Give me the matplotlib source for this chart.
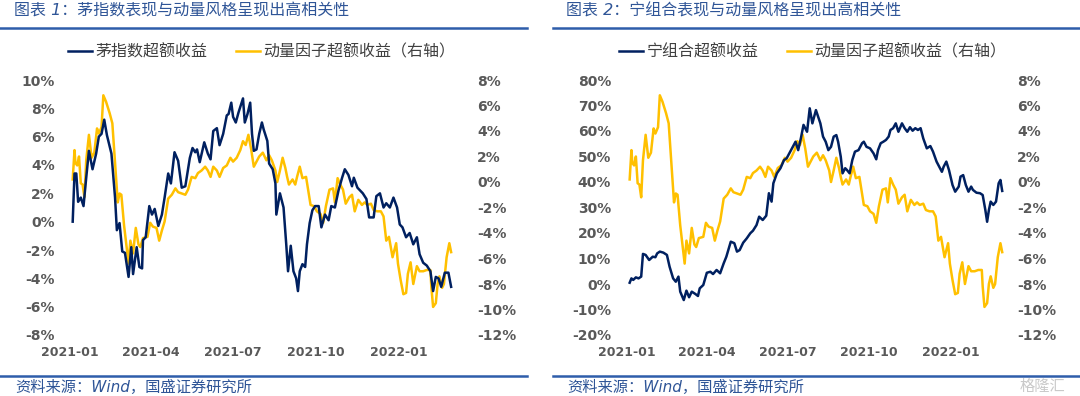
import matplotlib
matplotlib.use('Agg')
import matplotlib.pyplot as plt
import matplotlib.dates as mdates
import pandas as pd
from matplotlib.lines import Line2D

plt.rcParams['font.family'] = ['Noto Sans CJK SC', 'DejaVu Sans']

# 茅指数超额收益 (%), 左图左轴
mao_dates = ['2021-01-04', '2021-01-06', '2021-01-08', '2021-01-10', '2021-01-13', '2021-01-16',
             '2021-01-19', '2021-01-22', '2021-01-26', '2021-01-30', '2021-02-02', '2021-02-05',
             '2021-02-08', '2021-02-11', '2021-02-16', '2021-02-20', '2021-02-22', '2021-02-25',
             '2021-02-28', '2021-03-03', '2021-03-07', '2021-03-10', '2021-03-12', '2021-03-16',
             '2021-03-19', '2021-03-22', '2021-03-23', '2021-03-26', '2021-03-30', '2021-04-02',
             '2021-04-05', '2021-04-09', '2021-04-13', '2021-04-16', '2021-04-20', '2021-04-23',
             '2021-04-27', '2021-05-01', '2021-05-05', '2021-05-09', '2021-05-14', '2021-05-17',
             '2021-05-20', '2021-05-22', '2021-05-25', '2021-05-30', '2021-06-03', '2021-06-06',
             '2021-06-09', '2021-06-13', '2021-06-16', '2021-06-20', '2021-06-24', '2021-06-26',
             '2021-06-29', '2021-07-01', '2021-07-04', '2021-07-07', '2021-07-09', '2021-07-12',
             '2021-07-14', '2021-07-17', '2021-07-20', '2021-07-22', '2021-07-24', '2021-07-27',
             '2021-07-30', '2021-08-02', '2021-08-04', '2021-08-08', '2021-08-10', '2021-08-14',
             '2021-08-17', '2021-08-18', '2021-08-22', '2021-08-26', '2021-08-29', '2021-08-31',
             '2021-09-03', '2021-09-06', '2021-09-09', '2021-09-11', '2021-09-13', '2021-09-16',
             '2021-09-19', '2021-09-21', '2021-09-24', '2021-09-27', '2021-09-30', '2021-10-04',
             '2021-10-07', '2021-10-11', '2021-10-15', '2021-10-18', '2021-10-22', '2021-10-26',
             '2021-10-30', '2021-11-02', '2021-11-06', '2021-11-10', '2021-11-12', '2021-11-16',
             '2021-11-19', '2021-11-22', '2021-11-26', '2021-11-29', '2021-12-04', '2021-12-07',
             '2021-12-11', '2021-12-15', '2021-12-18', '2021-12-22', '2021-12-26', '2021-12-30',
             '2022-01-02', '2022-01-05', '2022-01-09', '2022-01-13', '2022-01-17', '2022-01-21',
             '2022-01-24', '2022-01-28', '2022-02-01', '2022-02-05', '2022-02-08', '2022-02-11',
             '2022-02-14', '2022-02-17', '2022-02-21', '2022-02-25', '2022-02-28']
mao_vals = [0.0, 3.4, 3.4, 1.4, 1.7, 1.1, 3.1, 5.0, 3.7, 4.8, 6.0, 6.2,
            7.2, 6.1, 4.8, 1.7, -0.6, -0.1, -2.1, -2.2, -3.9, -1.8, -3.7, -1.8,
            -3.2, -3.3, -1.3, -1.1, 1.1, 0.5, 0.9, -0.3, 0.5, 1.7, 3.4, 2.7,
            4.9, 4.3, 2.4, 2.5, 4.5, 5.2, 4.9, 5.1, 4.2, 5.6, 4.8, 4.4,
            6.4, 6.6, 5.4, 6.2, 7.5, 7.6, 8.4, 7.4, 7.0, 7.7, 8.1, 8.7,
            7.0, 7.6, 8.4, 6.2, 5.0, 5.1, 6.2, 7.0, 6.5, 5.7, 4.1, 3.7,
            2.7, 0.5, 2.0, 1.0, -1.6, -3.5, -1.7, -3.5, -4.0, -4.9, -3.5, -3.0,
            -3.2, -1.6, -0.1, 0.8, 1.1, 1.1, -0.4, 0.5, 0.1, 1.1, 1.0, 2.2,
            3.1, 3.7, 3.3, 2.5, 3.1, 2.4, 2.2, 2.0, 1.6, 0.3, 0.3, 1.8,
            2.0, 1.0, 1.3, 1.0, 1.7, 1.0, -0.2, -0.4, -1.1, -0.8, -1.6, -1.1,
            -2.3, -2.9, -3.1, -3.5, -4.9, -3.9, -4.0, -4.6, -3.6, -3.6, -4.6]

# 宁组合超额收益 (%), 右图左轴
ning_dates = ['2021-01-04', '2021-01-06', '2021-01-08', '2021-01-11', '2021-01-14', '2021-01-17',
              '2021-01-19', '2021-01-22', '2021-01-26', '2021-01-30', '2021-02-02', '2021-02-04',
              '2021-02-07', '2021-02-11', '2021-02-15', '2021-02-18', '2021-02-22', '2021-02-25',
              '2021-02-28', '2021-03-02', '2021-03-06', '2021-03-09', '2021-03-12', '2021-03-15',
              '2021-03-19', '2021-03-22', '2021-03-24', '2021-03-28', '2021-04-01', '2021-04-05',
              '2021-04-08', '2021-04-12', '2021-04-16', '2021-04-20', '2021-04-23', '2021-04-28',
              '2021-05-02', '2021-05-05', '2021-05-08', '2021-05-12', '2021-05-16', '2021-05-20',
              '2021-05-23', '2021-05-27', '2021-05-30', '2021-06-03', '2021-06-07', '2021-06-10',
              '2021-06-13', '2021-06-15', '2021-06-19', '2021-06-23', '2021-06-27', '2021-06-30',
              '2021-07-04', '2021-07-07', '2021-07-10', '2021-07-13', '2021-07-16', '2021-07-19',
              '2021-07-23', '2021-07-26', '2021-07-29', '2021-08-02', '2021-08-05', '2021-08-07',
              '2021-08-10', '2021-08-13', '2021-08-16', '2021-08-19', '2021-08-22', '2021-08-25',
              '2021-08-27', '2021-08-30', '2021-09-01', '2021-09-04', '2021-09-06', '2021-09-09',
              '2021-09-12', '2021-09-15', '2021-09-19', '2021-09-23', '2021-09-25', '2021-09-28',
              '2021-10-02', '2021-10-06', '2021-10-09', '2021-10-11', '2021-10-14', '2021-10-17',
              '2021-10-20', '2021-10-23', '2021-10-25', '2021-10-28', '2021-10-31', '2021-11-03',
              '2021-11-07', '2021-11-10', '2021-11-13', '2021-11-16', '2021-11-19', '2021-11-22',
              '2021-11-25', '2021-11-28', '2021-12-01', '2021-12-05', '2021-12-09', '2021-12-12',
              '2021-12-16', '2021-12-19', '2021-12-22', '2021-12-24', '2021-12-27', '2021-12-30',
              '2022-01-03', '2022-01-06', '2022-01-10', '2022-01-12', '2022-01-15', '2022-01-18',
              '2022-01-21', '2022-01-24', '2022-01-26', '2022-01-30', '2022-02-03', '2022-02-06',
              '2022-02-09', '2022-02-11', '2022-02-13', '2022-02-15', '2022-02-18', '2022-02-21',
              '2022-02-24', '2022-02-26', '2022-02-28']
ning_vals = [0.5, 2.2, 1.6, 2.6, 2.2, 2.9, 11.8, 11.4, 9.4, 10.7, 10.5, 12.0,
             12.7, 12.3, 11.4, 6.8, 2.2, 0.9, 2.9, -3.0, -6.3, -2.6, -5.2, -3.0,
             -3.9, -4.7, -1.7, -0.4, 4.4, 4.8, 3.9, 5.5, 4.2, 8.1, 10.7, 16.6,
             16.0, 12.7, 13.3, 16.2, 17.9, 19.9, 20.9, 23.1, 26.4, 25.1, 26.8, 35.6,
             32.3, 39.5, 43.4, 45.4, 48.6, 49.3, 51.9, 53.8, 55.8, 52.5, 57.1, 62.4,
             59.7, 68.9, 63.0, 68.2, 65.0, 63.0, 57.8, 55.8, 52.5, 53.8, 57.8, 58.4,
             55.8, 49.9, 43.4, 45.4, 44.7, 43.4, 48.6, 51.9, 52.5, 55.2, 55.8, 53.8,
             53.2, 51.2, 48.9, 52.5, 55.2, 55.8, 56.5, 57.8, 60.4, 61.1, 63.0, 59.7,
             63.0, 61.1, 59.7, 61.5, 60.1, 61.1, 60.4, 61.1, 57.1, 53.2, 54.1, 51.9,
             48.0, 46.0, 44.0, 46.0, 48.0, 44.7, 38.8, 36.2, 38.2, 42.1, 42.7, 38.8,
             36.2, 38.2, 36.9, 35.8, 35.6, 34.9, 29.0, 24.4, 29.0, 32.3, 31.0, 32.3,
             39.5, 40.8, 36.5]

# 动量因子超额收益 (%), 两图右轴
mom_dates = ['2021-01-04', '2021-01-06', '2021-01-07', '2021-01-09', '2021-01-11', '2021-01-13',
             '2021-01-15', '2021-01-17', '2021-01-19', '2021-01-22', '2021-01-25', '2021-01-28',
             '2021-01-31', '2021-02-02', '2021-02-05', '2021-02-07', '2021-02-10', '2021-02-14',
             '2021-02-17', '2021-02-20', '2021-02-23', '2021-02-25', '2021-02-27', '2021-03-02',
             '2021-03-04', '2021-03-07', '2021-03-09', '2021-03-12', '2021-03-15', '2021-03-18',
             '2021-03-20', '2021-03-23', '2021-03-28', '2021-03-31', '2021-04-03', '2021-04-07',
             '2021-04-10', '2021-04-13', '2021-04-16', '2021-04-20', '2021-04-24', '2021-04-28',
             '2021-05-01', '2021-05-05', '2021-05-09', '2021-05-12', '2021-05-16', '2021-05-20',
             '2021-05-23', '2021-05-27', '2021-05-31', '2021-06-03', '2021-06-06', '2021-06-09',
             '2021-06-13', '2021-06-16', '2021-06-20', '2021-06-24', '2021-06-28', '2021-07-01',
             '2021-07-05', '2021-07-09', '2021-07-12', '2021-07-15', '2021-07-18', '2021-07-21',
             '2021-07-24', '2021-07-27', '2021-07-30', '2021-08-03', '2021-08-07', '2021-08-10',
             '2021-08-13', '2021-08-17', '2021-08-19', '2021-08-22', '2021-08-25', '2021-08-28',
             '2021-08-30', '2021-09-01', '2021-09-05', '2021-09-08', '2021-09-10', '2021-09-13',
             '2021-09-16', '2021-09-20', '2021-09-23', '2021-09-25', '2021-09-29', '2021-10-02',
             '2021-10-06', '2021-10-09', '2021-10-12', '2021-10-16', '2021-10-20', '2021-10-22',
             '2021-10-25', '2021-10-28', '2021-10-31', '2021-11-03', '2021-11-07', '2021-11-10',
             '2021-11-13', '2021-11-17', '2021-11-21', '2021-11-24', '2021-11-27', '2021-12-01',
             '2021-12-04', '2021-12-08', '2021-12-12', '2021-12-15', '2021-12-18', '2021-12-21',
             '2021-12-25', '2021-12-29', '2021-12-31', '2022-01-03', '2022-01-06', '2022-01-09',
             '2022-01-11', '2022-01-14', '2022-01-17', '2022-01-21', '2022-01-24', '2022-01-28',
             '2022-02-01', '2022-02-05', '2022-02-06', '2022-02-08', '2022-02-11', '2022-02-13',
             '2022-02-15', '2022-02-18', '2022-02-20', '2022-02-23', '2022-02-26', '2022-02-28']
mom_vals = [0.2, 2.5, 1.5, 1.3, 2.0, -0.1, -0.2, -1.2, 1.7, 3.7, 1.9, 2.3,
            4.2, 3.8, 4.3, 6.8, 6.3, 5.4, 4.6, 1.5, -1.6, -0.9, -1.0, -3.4,
            -4.6, -6.4, -4.6, -5.6, -3.6, -4.9, -5.1, -4.4, -4.3, -3.2, -3.5, -3.6,
            -4.6, -3.8, -3.1, -1.3, -1.0, -0.5, -0.8, -0.9, -1.0, -0.6, 0.4, 0.3,
            0.7, 0.9, 1.2, 0.9, 0.4, 1.2, 0.9, 0.4, 1.1, 1.3, 1.9, 1.6,
            1.9, 2.5, 3.2, 2.9, 3.7, 2.6, 1.2, 1.6, 2.0, 2.3, 1.7, 2.1,
            1.7, 0.9, 0.0, 0.9, 1.9, 1.1, 0.4, -0.2, 0.2, -0.2, 0.4, 1.2,
            0.3, 0.4, -0.9, -1.8, -1.9, -2.3, -2.5, -3.2, -1.9, -0.6, -0.5, -1.6,
            0.3, -0.2, -0.6, -1.7, -1.2, -1.0, -2.3, -1.4, -1.8, -1.6, -1.8, -1.7,
            -2.2, -2.3, -2.3, -2.7, -4.6, -4.3, -5.9, -4.8, -6.4, -7.7, -8.8, -8.7,
            -7.2, -6.3, -8.0, -6.6, -7.0, -7.0, -6.9, -6.9, -8.2, -9.8, -9.5, -8.0,
            -7.4, -8.3, -8.0, -5.9, -4.8, -5.5]

panels = [
    ('图表 1：茅指数表现与动量风格呈现出高相关性', '茅指数超额收益', mao_dates, mao_vals, [-8, 10], 2),
    ('图表 2：宁组合表现与动量风格呈现出高相关性', '宁组合超额收益', ning_dates, ning_vals, [-20, 80], 10),
]
mom_label = '动量因子超额收益（右轴）'
right_ticks = list(range(-12, 9, 2))

NAVY = '#002060'
GOLD = '#FFC000'
TICK = '#595959'
BLUE = '#2F5597'
W, H = 1080, 396

# 版面 (像素): 左右两图的绘图区、一月一日位置、每天像素
layout = [
    dict(left=62, right=470, jan1=70, pxday=0.901, x0=0, x1=527, text_x=14, leg_cx=262),
    dict(left=618, right=1010, jan1=627, pxday=0.887, x0=553, x1=1080, text_x=566, leg_cx=813),
]
top, bottom = 80, 335


def fig_box(l, t, r, b):
    return [l / W, 1 - b / H, (r - l) / W, (b - t) / H]


fig = plt.figure(figsize=(W / 100, H / 100), dpi=100)

for (title, blue_label, dates, vals, ylim, step), lay in zip(panels, layout):
    ax = fig.add_axes(fig_box(lay['left'], top, lay['right'], bottom))
    ax2 = ax.twinx()

    jan1 = mdates.date2num(pd.Timestamp('2021-01-01'))
    xs = jan1 + (lay['left'] - lay['jan1']) / lay['pxday']
    xe = xs + (lay['right'] - lay['left']) / lay['pxday']

    l1, = ax.plot(pd.to_datetime(dates), vals, color=NAVY, lw=1.8, label=blue_label)
    l2, = ax2.plot(pd.to_datetime(mom_dates), mom_vals, color=GOLD, lw=1.8, label=mom_label)
    ax.set_zorder(ax2.get_zorder() + 1)
    ax.patch.set_visible(False)

    ax.set_xlim(xs, xe)
    ax.set_ylim(*ylim)
    ax2.set_ylim(-12, 8)

    lt = list(range(ylim[0], ylim[1] + 1, step))
    ax.set_yticks(lt)
    ax.set_yticklabels([f'{v}%' for v in lt])
    ax2.set_yticks(right_ticks)
    ax2.set_yticklabels([f'{v}%' for v in right_ticks])
    ax.set_xticks(pd.to_datetime(['2021-01-01', '2021-04-01', '2021-07-01', '2021-10-01', '2022-01-01']))
    ax.xaxis.set_major_formatter(mdates.DateFormatter('%Y-%m'))

    for a in (ax, ax2):
        for s in a.spines.values():
            s.set_visible(False)
        a.tick_params(length=0, colors=TICK, pad=5)
    ax.tick_params(axis='x', pad=8)
    for lab in ax.get_yticklabels() + ax2.get_yticklabels():
        lab.set_fontfamily('DejaVu Sans')
        lab.set_fontweight('bold')
        lab.set_fontsize(10)
    for lab in ax.get_xticklabels():
        lab.set_fontfamily('DejaVu Sans')
        lab.set_fontweight('bold')
        lab.set_fontsize(9)

    leg = ax.legend([l1, l2], [blue_label, mom_label], loc='center', ncol=2, frameon=False,
                    bbox_to_anchor=(lay['leg_cx'] / W, 1 - 52 / H), bbox_transform=fig.transFigure,
                    fontsize=11.5, handlelength=1.5, handletextpad=0.2, columnspacing=1.8,
                    borderpad=0, labelcolor='#404040')

    # 标题、分隔线与资料来源
    fig.text(lay['text_x'] / W, 1 - 11 / H, title, color=BLUE, fontsize=11.5, va='center',
             style='italic', family=['DejaVu Sans', 'Noto Sans CJK SC'])
    fig.add_artist(Line2D([lay['x0'] / W, lay['x1'] / W], [1 - 28 / H] * 2, color='#2E5DAA', lw=1.8))
    fig.add_artist(Line2D([lay['x0'] / W, lay['x1'] / W], [1 - 376 / H] * 2, color='#2E5DAA', lw=1.8))
    fig.text((lay['text_x'] + 1) / W, 1 - 387 / H, '资料来源：Wind，国盛证券研究所', color=BLUE,
             fontsize=11, va='center', style='italic', family=['DejaVu Sans', 'Noto Sans CJK SC'])

fig.text(1042 / W, 1 - 386 / H, '格隆汇', color='#c9c9c9', fontsize=11, ha='center', va='center')

fig.savefig('out.png', dpi=100)
